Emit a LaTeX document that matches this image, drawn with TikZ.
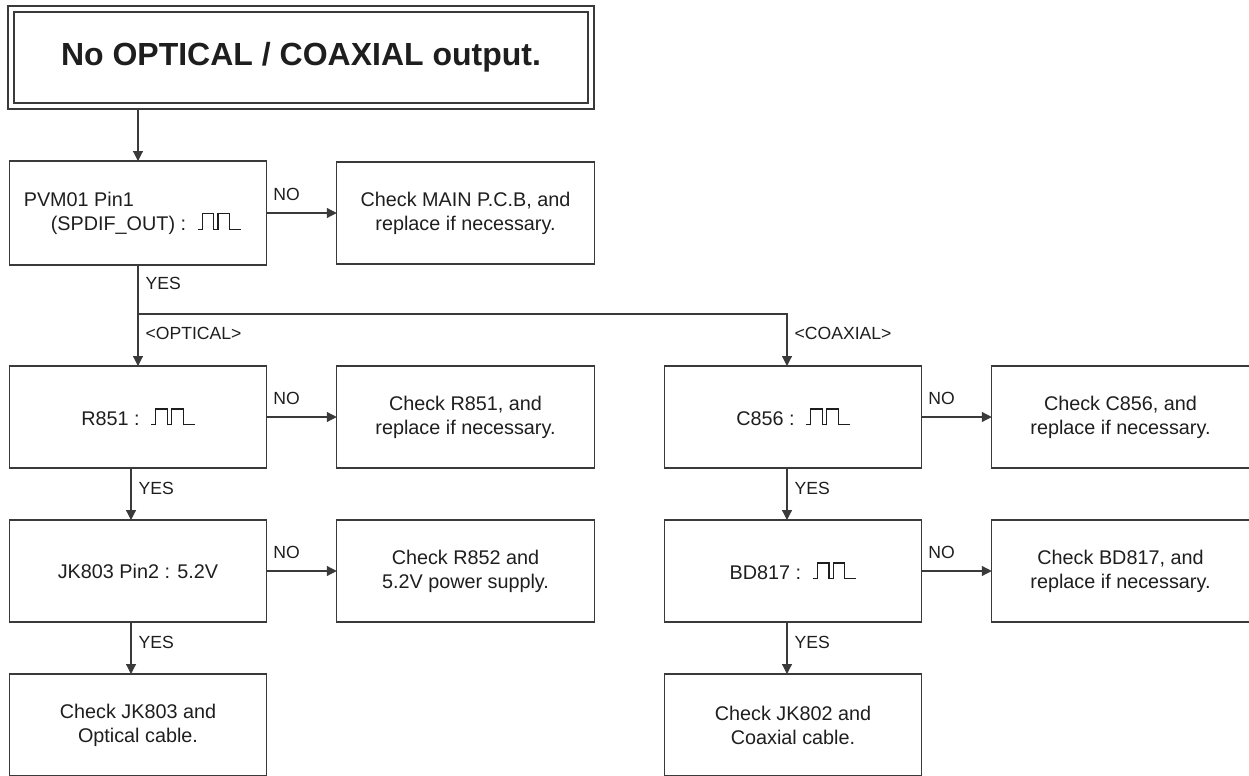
\documentclass[tikz,border=0pt]{standalone}
\usepackage{fontspec}
\setmainfont{Liberation Sans}
\usetikzlibrary{arrows.meta,positioning}
\definecolor{vonalszin}{HTML}{3A3A3A}
\definecolor{betuszin}{HTML}{1E1E1E}
\newcommand{\jelalak}{\rule{2pt}{0.6pt}\rule{0.6pt}{8.5pt}\raisebox{7.9pt}{\rule{5.2pt}{0.6pt}}\rule{0.6pt}{8.5pt}\rule{1.5pt}{0.6pt}\rule{0.6pt}{8.5pt}\raisebox{7.9pt}{\rule{5.2pt}{0.6pt}}\rule{0.6pt}{8.5pt}\rule{5.5pt}{0.6pt}}
\tikzset{
  doboz/.style={draw=vonalszin,line width=0.6pt,text=betuszin,minimum width=128.75pt,minimum height=51pt,
                inner sep=2pt,outer sep=0pt,align=center,font=\fontsize{9.9}{12}\selectfont},
  cimdoboz/.style={draw=vonalszin,line width=0.6pt,double,double distance=2.4pt,text=betuszin,
                   minimum width=290pt,minimum height=48.5pt,font=\fontsize{16}{19}\selectfont\bfseries},
  vonal/.style={draw=vonalszin,line width=0.6pt},
  elnyil/.style={vonal,-{Triangle[length=5pt,width=5pt]}},
  felirat/.style={font=\fontsize{8.8}{10}\selectfont,text=betuszin,inner sep=2pt},
  igenfelirat/.style={felirat,anchor=west,pos=0.38,xshift=1.5pt},
  nemfelirat/.style={felirat,anchor=south west,pos=0,xshift=1pt,yshift=4pt},
}

\begin{document}
\begin{tikzpicture}[x=0.5pt,y=-0.5pt]
  \useasboundingbox (0,0) rectangle (1249,776);
  \node[cimdoboz] (cim) at (301,57.5) {No OPTICAL / COAXIAL output.};
  \node[doboz,minimum height=52pt,align=left] (pvm) at (138,213)
    {PVM01 Pin1\\\hspace*{13.5pt}(SPDIF\_OUT) :~\hspace{3pt}\jelalak\hspace*{5.5pt}};
  \node[doboz,right=35pt of pvm] (fopcb) {Check MAIN P.C.B, and\\replace if necessary.};
  % optikai ag
  \node[doboz,below=50.5pt of pvm] (r851) {R851 :~\hspace{3pt}\jelalak};
  \node[doboz,right=35pt of r851] (fr851) {Check R851, and\\replace if necessary.};
  \node[doboz,below=26pt of r851] (jk803) {JK803 Pin2 : 5.2V};
  \node[doboz,right=35pt of jk803] (fr852) {Check R852 and\\5.2V power supply.};
  \node[doboz,below=26pt of jk803] (jk803v) {Check JK803 and\\Optical cable.};
  % koaxialis ag
  \node[doboz,right=35pt of fr851] (c856) {C856 :~\hspace{3pt}\jelalak};
  \node[doboz,right=35pt of c856] (fc856) {Check C856, and\\replace if necessary.};
  \node[doboz,below=26pt of c856] (bd817) {BD817 :~\hspace{3pt}\jelalak};
  \node[doboz,right=35pt of bd817] (fbd817) {Check BD817, and\\replace if necessary.};
  \node[doboz,below=26pt of bd817] (jk802v) {Check JK802 and\\Coaxial cable.};
  \coordinate (eloszt) at ([yshift=-24.5pt]pvm.south);

  \draw[elnyil] ([yshift=-1.5pt]cim.south -| pvm.north) -- (pvm.north);
  \draw[elnyil] (pvm) -- node[nemfelirat] {NO} (fopcb);
  \draw[vonal] (pvm) -- node[igenfelirat] {YES} (eloszt);
  \draw[elnyil] (eloszt) -- node[igenfelirat] {<OPTICAL>} (r851);
  \draw[elnyil] (eloszt) -| node[igenfelirat,pos=0.69] {<COAXIAL>} ([xshift=-3pt]c856.north);
  \draw[elnyil] (r851) -- node[nemfelirat] {NO} (fr851);
  \draw[elnyil] ([xshift=-3.5pt]r851.south) -- node[igenfelirat,pos=0.4] {YES} ([xshift=-3.5pt]jk803.north);
  \draw[elnyil] (jk803) -- node[nemfelirat] {NO} (fr852);
  \draw[elnyil] ([xshift=-3.5pt]jk803.south) -- node[igenfelirat,pos=0.4] {YES} ([xshift=-3.5pt]jk803v.north);
  \draw[elnyil] (c856) -- node[nemfelirat] {NO} (fc856);
  \draw[elnyil] ([xshift=-3pt]c856.south) -- node[igenfelirat,pos=0.4] {YES} ([xshift=-3pt]bd817.north);
  \draw[elnyil] (bd817) -- node[nemfelirat] {NO} (fbd817);
  \draw[elnyil] ([xshift=-3pt]bd817.south) -- node[igenfelirat,pos=0.4] {YES} ([xshift=-3pt]jk802v.north);
\end{tikzpicture}
\end{document}
